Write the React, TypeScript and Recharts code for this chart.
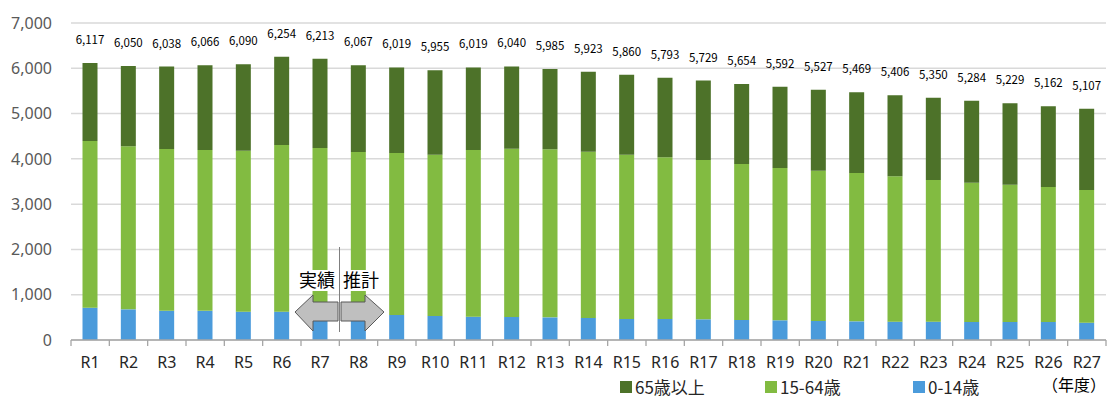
import { Bar, BarChart, CartesianGrid, LabelList, XAxis, YAxis } from "recharts";

const years = [
  "R1", "R2", "R3", "R4", "R5", "R6", "R7", "R8", "R9", "R10", "R11", "R12", "R13", "R14",
  "R15", "R16", "R17", "R18", "R19", "R20", "R21", "R22", "R23", "R24", "R25", "R26", "R27"
];
const age0to14 = [
  713, 677, 647, 645, 625, 625, 610, 580, 552, 530, 515, 508, 500, 486,
  464, 464, 457, 442, 435, 420, 412, 405, 405, 397, 397, 397, 383
];
const age15to64 = [
  3681, 3599, 3570, 3550, 3555, 3681, 3629, 3571, 3577, 3562, 3680, 3716, 3710, 3672,
  3628, 3569, 3517, 3444, 3363, 3319, 3275, 3209, 3128, 3077, 3033, 2981, 2929
];
const age65plus = [
  1723, 1774, 1821, 1871, 1910, 1948, 1974, 1916, 1890, 1863, 1824, 1816, 1775, 1765,
  1768, 1760, 1755, 1768, 1794, 1788, 1782, 1792, 1817, 1810, 1799, 1784, 1795
];
const totals = [
  6117, 6050, 6038, 6066, 6090, 6254, 6213, 6067, 6019, 5955, 6019, 6040, 5985, 5923,
  5860, 5793, 5729, 5654, 5592, 5527, 5469, 5406, 5350, 5284, 5229, 5162, 5107
];
const yTicks = [0, 1000, 2000, 3000, 4000, 5000, 6000, 7000];

const COLOR_OLD = "#4D7229";
const COLOR_WORK = "#82BB41";
const COLOR_YOUNG = "#4B9BDB";

const legendItems = [
  { label: "65歳以上", color: COLOR_OLD, left: 620 },
  { label: "15-64歳", color: COLOR_WORK, left: 765 },
  { label: "0-14歳", color: COLOR_YOUNG, left: 913 }
];

const data = years.map((y, i) => ({
  year: y,
  young: age0to14[i],
  work: age15to64[i],
  old: age65plus[i],
  total: totals[i]
}));

const CHART_W = 1110;
const CHART_H = 400;
const PLOT_LEFT = 71;
const PLOT_RIGHT = 1106;
const BAND = (PLOT_RIGHT - PLOT_LEFT) / years.length;

const jp = '"Noto Sans CJK JP", "Noto Sans", sans-serif';

const XTick = (props: any) => {
  const { x, y, payload, index } = props;
  const last = index === years.length - 1;
  return (
    <g>
      <line x1={x - BAND / 2} x2={x - BAND / 2} y1={y} y2={y + 6} stroke="#a6a6a6" strokeWidth={1.3} />
      {last && (
        <line x1={x + BAND / 2} x2={x + BAND / 2} y1={y} y2={y + 6} stroke="#a6a6a6" strokeWidth={1.3} />
      )}
      <text
        x={x}
        y={y + 28}
        textAnchor="middle"
        fontSize={16}
        fontFamily='"Noto Sans", sans-serif'
        fill="#262626"
      >
        {payload.value}
      </text>
    </g>
  );
};

export default function App() {
  return (
    <div style={{ position: "absolute", left: 0, top: 0, width: CHART_W, height: CHART_H, overflow: "hidden", background: "#fff" }}>
      <BarChart
        width={CHART_W}
        height={CHART_H}
        data={data}
        margin={{ top: 23, right: CHART_W - PLOT_RIGHT, bottom: 30, left: 11 }}
        barCategoryGap="30%"
      >
        <CartesianGrid vertical={false} stroke="#d9d9d9" strokeWidth={1.5} />
        <XAxis
          dataKey="year"
          height={30}
          interval={0}
          tickLine={false}
          tickSize={0}
          tickMargin={0}
          axisLine={{ stroke: "#a6a6a6", strokeWidth: 1.3 }}
          tick={XTick}
        />
        <YAxis
          width={60}
          domain={[0, 7000]}
          ticks={yTicks}
          axisLine={false}
          tickLine={false}
          tickSize={0}
          tickMargin={19}
          tickFormatter={(v: number) => v.toLocaleString("en-US")}
          tick={{ fontSize: 16, fill: "#595959", fontFamily: '"Noto Sans", sans-serif' }}
        />
        <Bar dataKey="young" stackId="a" fill={COLOR_YOUNG} isAnimationActive={false} />
        <Bar dataKey="work" stackId="a" fill={COLOR_WORK} isAnimationActive={false} />
        <Bar dataKey="old" stackId="a" fill={COLOR_OLD} isAnimationActive={false}>
          <LabelList
            dataKey="total"
            position="top"
            offset={19}
            formatter={(v: any) => Number(v).toLocaleString("en-US")}
            fontSize={11.5}
            fontFamily={jp}
            fill="#000"
          />
        </Bar>
      </BarChart>

      {/* 実績 / 推計 annotation */}
      <svg width={CHART_W} height={CHART_H} style={{ position: "absolute", left: 0, top: 0, pointerEvents: "none" }}>
        <rect x={297} y={270} width={40} height={21} fill="#fff" />
        <rect x={341} y={270} width={41} height={21} fill="#fff" />
        <text x={317} y={287} textAnchor="middle" fontSize={18} fontFamily={jp} fill="#000">実績</text>
        <text x={361} y={287} textAnchor="middle" fontSize={18} fontFamily={jp} fill="#000">推計</text>
        <polygon
          points="295,312 313,295 313,302 338,302 338,321 313,321 313,331"
          fill="#bfbfbf"
          stroke="#595959"
          strokeWidth={1}
        />
        <polygon
          points="384,312 365,295 365,302 341,302 341,321 365,321 365,331"
          fill="#bfbfbf"
          stroke="#595959"
          strokeWidth={1}
        />
        <line x1={339.5} x2={339.5} y1={247} y2={332} stroke="#7f7f7f" strokeWidth={1} />
        <text x={1042} y={391} fontSize={16} fontFamily={jp} fill="#000">（年度）</text>
      </svg>

      {legendItems.map((item) => (
        <div
          key={item.label}
          style={{
            position: "absolute",
            left: item.left,
            top: 378,
            display: "flex",
            alignItems: "center",
            fontFamily: jp,
            fontSize: 17,
            color: "#262626",
            lineHeight: "18px",
            whiteSpace: "nowrap"
          }}
        >
          <span style={{ display: "inline-block", width: 12, height: 12, background: item.color, marginRight: 3 }} />
          {item.label}
        </div>
      ))}
    </div>
  );
}
